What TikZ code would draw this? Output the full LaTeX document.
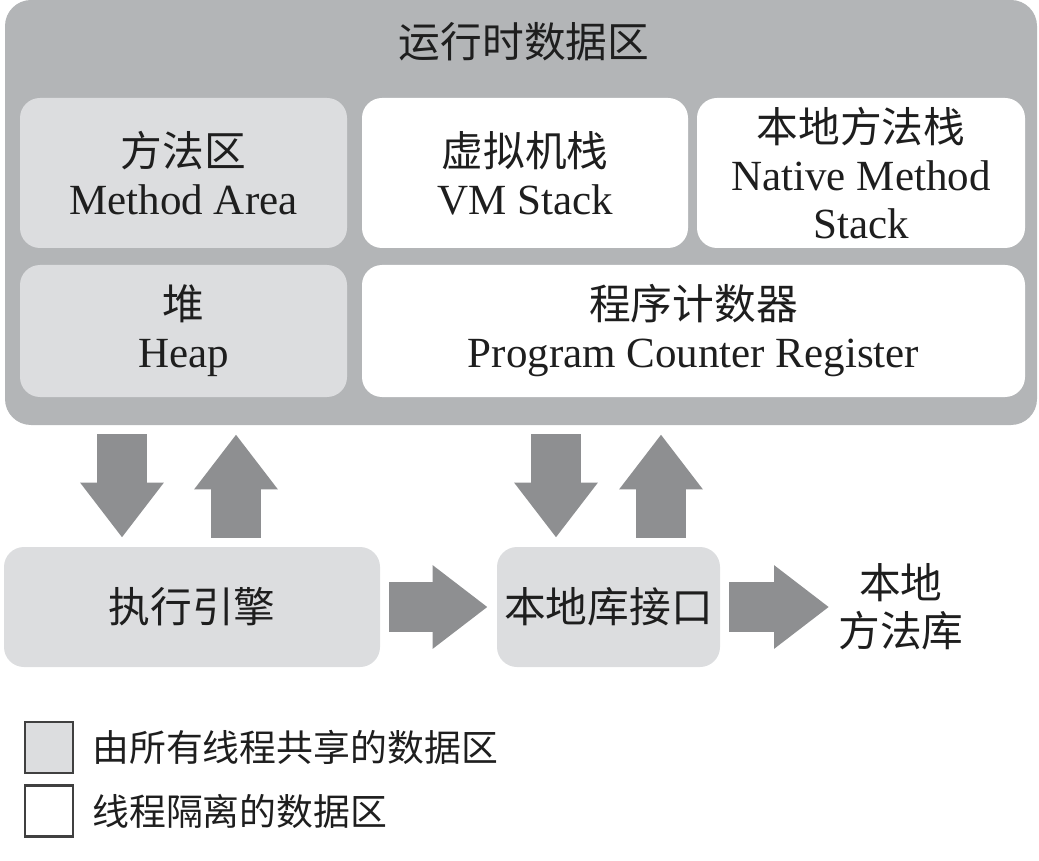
\documentclass[tikz,border=0pt]{standalone}
\usepackage{fontspec}
\setmainfont{Liberation Serif}
\newfontfamily\zhfont[Scale=0.97]{Noto Sans CJK SC}
\usetikzlibrary{arrows.meta, positioning}

\definecolor{areagray}{RGB}{179,181,183}
\definecolor{sharedgray}{RGB}{220,221,223}
\definecolor{arrowgray}{RGB}{142,143,145}
\definecolor{inkgray}{RGB}{30,30,30}

\tikzset{
  region/.style={rounded corners=10pt, inner sep=0pt, align=center,
    font=\fontsize{21.5}{24}\selectfont, text=inkgray},
  shared/.style={region, fill=sharedgray},
  private/.style={region, fill=white},
  blockarr/.style={arrowgray, line width=25pt,
    -{Triangle[length=27.5pt, width=40pt]}, shorten <=4.5pt, shorten >=4.5pt},
  legendbox/.style={draw=inkgray!85, line width=1.4pt, minimum width=24pt,
    minimum height=25.5pt, inner sep=0pt},
  legendtext/.style={anchor=west, inner sep=0pt, font=\zhfont\fontsize{19}{20}\selectfont, text=inkgray}
}

\begin{document}
\begin{tikzpicture}[x=0.5pt, y=-0.5pt]
  \useasboundingbox (0,0) rectangle (1039,861);

  % runtime data area
  \node[region, fill=areagray, rounded corners=13pt, minimum width=516pt,
    minimum height=212.5pt] (runtime) at (521,212.5) {};
  \node[region] (title) at (524,42) {\zhfont 运行时数据区};

  % shared and private areas
  \node[shared, minimum width=163.5pt, minimum height=75pt] (method) at (183.5,173)
    {{\zhfont 方法区}\\Method Area};
  \node[private, minimum width=163pt, minimum height=75pt] (vmstack) at (525,173)
    {{\zhfont 虚拟机栈}\\VM Stack};
  \node[private, minimum width=164pt, minimum height=75pt] (nativestack) at (861,173)
    {{\zhfont 本地方法栈}\\Native Method\\Stack};
  \node[shared, minimum width=163.5pt, minimum height=66pt] (heap) at (183.5,331)
    {{\zhfont 堆}\\Heap};
  \node[private, minimum width=331.5pt, minimum height=66pt] (pcreg) at (693.5,331)
    {{\zhfont 程序计数器}\\Program Counter Register};

  % engine and native interface
  \node[shared, minimum width=188pt, minimum height=60pt] (engine) at (192,607)
    {\zhfont 执行引擎};
  \node[shared, minimum width=111.5pt, minimum height=60pt] (iface) at (608.5,607)
    {\zhfont 本地库接口};
  \node[region, inner sep=0pt, anchor=west] (nativelib) at (838,607)
    {\zhfont 本地\\\zhfont 方法库};

  % block arrows
  \coordinate (d1) at (122,0);
  \coordinate (u1) at (236,0);
  \coordinate (d2) at (556,0);
  \coordinate (u2) at (661,0);
  \draw[blockarr] (runtime.south -| d1) -- (engine.north -| d1);
  \draw[blockarr] (engine.north -| u1) -- (runtime.south -| u1);
  \draw[blockarr] (runtime.south -| d2) -- (iface.north -| d2);
  \draw[blockarr] (iface.north -| u2) -- (runtime.south -| u2);
  \draw[blockarr] (engine.east) -- (iface.west);
  \draw[blockarr] (iface.east) -- (nativelib.west);

  % legend
  \node[legendbox, fill=sharedgray] (keyshared) at (49,747.5) {};
  \node[legendbox, fill=white] (keyprivate) at (49,811) {};
  \node[legendtext] at (92,747.5) {由所有线程共享的数据区};
  \node[legendtext] at (92,811) {线程隔离的数据区};
\end{tikzpicture}
\end{document}
